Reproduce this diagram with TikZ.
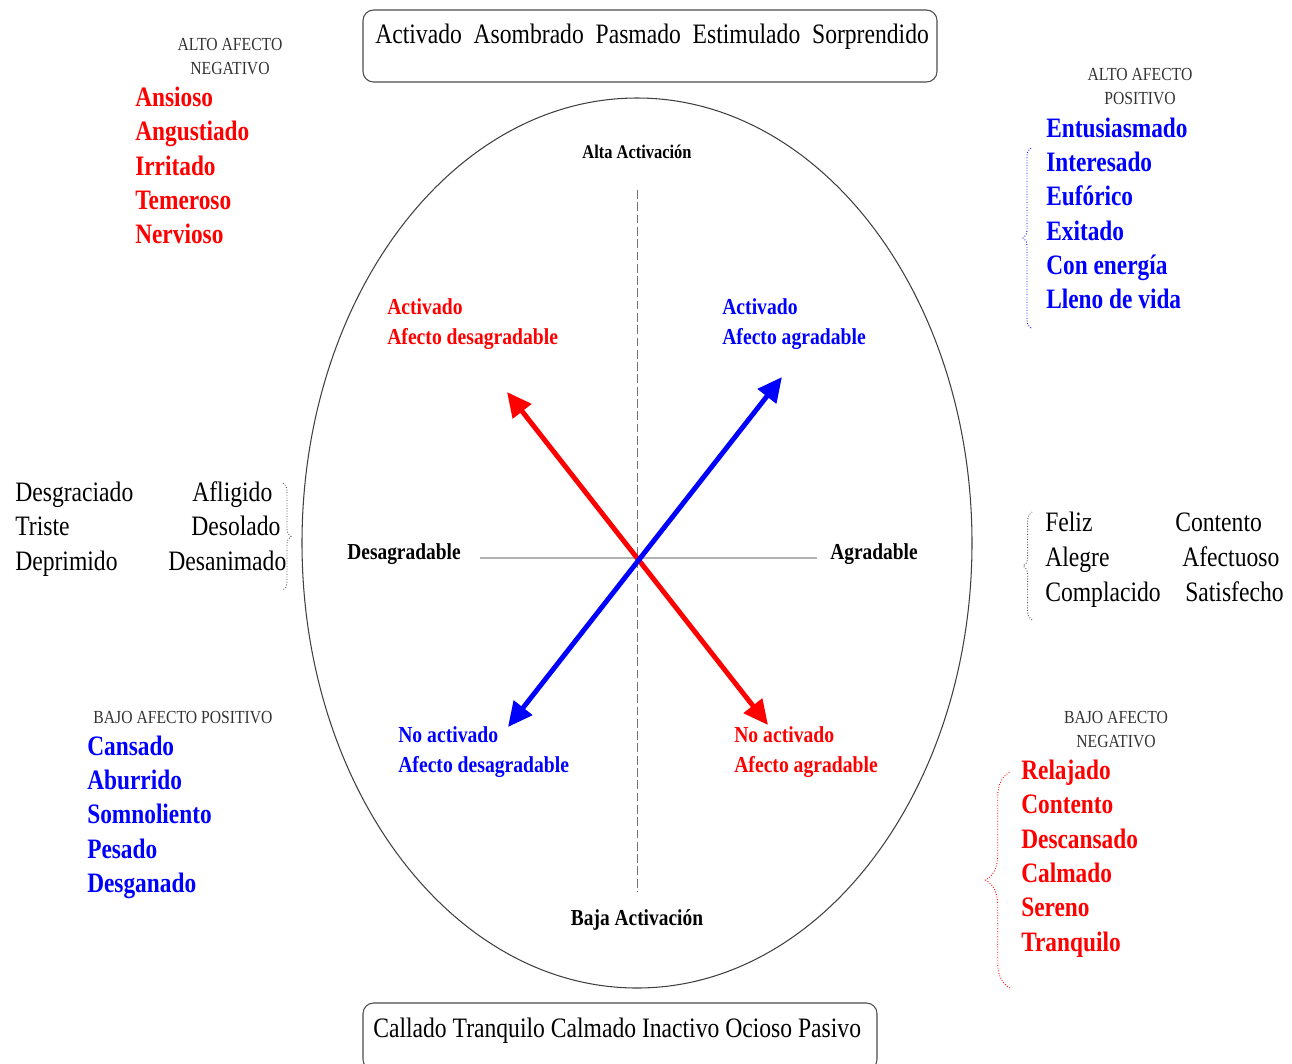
\documentclass[tikz,border=0pt]{standalone}
\usepackage{fontspec}
\setmainfont{Liberation Serif}
\usetikzlibrary{arrows.meta,decorations.pathreplacing}

\tikzset{
  base/.style={inner sep=0pt, text height=1.5ex, text depth=.25ex},
  palabra/.style={base, anchor=west, xscale=.84, yshift=-2.2pt, font=\fontsize{16}{19}\selectfont},
  lista/.style={base, anchor=west, xscale=.83, yshift=-2.2pt, font=\bfseries\fontsize{16}{19}\selectfont},
  rojo/.style={lista, text=red},
  azul/.style={lista, text=blue},
  rotulo/.style={base, xscale=.85, yshift=-0.6pt, text=black!80, font=\fontsize{10.5}{12}\selectfont},
  eje/.style={base, xscale=.85, yshift=-1.4pt, font=\bfseries\fontsize{13}{15}\selectfont},
  cuadrante/.style={base, anchor=west, xscale=.86, yshift=-1.6pt, font=\bfseries\fontsize{13}{15}\selectfont},
  caja/.style={draw=black!70, line width=0.6pt, rounded corners=6pt},
  flecha/.style={line width=2.8pt, {Triangle[length=14pt,width=13pt]}-{Triangle[length=14pt,width=13pt]}},
  llave/.style={decorate, decoration={brace, amplitude=#1}, densely dotted, line width=0.5pt}
}

\begin{document}
\begin{tikzpicture}
[x=0.02cm, y=-0.02cm]
\useasboundingbox (0,0) rectangle (1292,1063);
% cajas de arriba y abajo
\draw [caja] (363,10) rectangle (937,82);
\node [palabra] (altaPal) at (375,35) {Activado\enspace Asombrado\enspace Pasmado\enspace Estimulado\enspace Sorprendido};
\draw [caja] (363,1003) rectangle (877,1070);
\node [palabra] (bajaPal) at (373,1029) {Callado Tranquilo Calmado Inactivo Ocioso Pasivo};
% circulo y ejes
\coordinate (elipse) at (637,543);
\draw [black!75, line width=0.6pt] (elipse) ellipse [x radius=335, y radius=445];
\coordinate (ejeN) at (637,190);
\coordinate (ejeS) at (637,892);
\coordinate (ejeO) at (480,558);
\coordinate (ejeE) at (817,558);
\draw [black!55, line width=0.5pt, dash pattern=on 5pt off 2pt] (ejeN) -- (ejeS);
\draw [black!30, line width=0.6pt] (ejeO) -- (ejeE);
\node [eje, font=\bfseries\fontsize{11}{13}\selectfont] (alta) at (637,151) {Alta Activación};
\node [eje] (baja) at (637,918) {Baja Activación};
\node [eje] (desag) at (404,552) {Desagradable};
\node [eje] (agrad) at (874,552) {Agradable};
% flechas
\coordinate (rojoA) at (507,392);
\coordinate (rojoB) at (768,725);
\coordinate (azulA) at (508,727);
\coordinate (azulB) at (782,377);
\draw [flecha, red] (rojoB) -- (rojoA);
\draw [flecha, blue] (azulA) -- (azulB);
% cuadrantes
\node [cuadrante, text=red] (q1a) at (387,307) {Activado};
\node [cuadrante, text=red] (q1b) at (387,337) {Afecto desagradable};
\node [cuadrante, text=blue] (q2a) at (722,307) {Activado};
\node [cuadrante, text=blue] (q2b) at (722,337) {Afecto agradable};
\node [cuadrante, text=blue] (q3a) at (398,735) {No activado};
\node [cuadrante, text=blue] (q3b) at (398,765) {Afecto desagradable};
\node [cuadrante, text=red] (q4a) at (734,735) {No activado};
\node [cuadrante, text=red] (q4b) at (734,765) {Afecto agradable};
% alto afecto negativo
\node [rotulo] (aan1) at (230,44) {ALTO AFECTO};
\node [rotulo] (aan2) at (230,68) {NEGATIVO};
\node [rojo] (ansioso) at (135,98) {Ansioso};
\node [rojo] (angustiado) at (135,132) {Angustiado};
\node [rojo] (irritado) at (135,167) {Irritado};
\node [rojo] (temeroso) at (135,201) {Temeroso};
\node [rojo] (nervioso) at (135,235) {Nervioso};
% alto afecto positivo
\node [rotulo] (aap1) at (1140,74) {ALTO AFECTO};
\node [rotulo] (aap2) at (1140,98) {POSITIVO};
\node [azul] (entusiasmado) at (1046,129) {Entusiasmado};
\node [azul] (interesado) at (1046,163) {Interesado};
\node [azul] (euforico) at (1046,197) {Eufórico};
\node [azul] (exitado) at (1046,232) {Exitado};
\node [azul] (energia) at (1046,266) {Con energía};
\node [azul] (lleno) at (1046,300) {Lleno de vida};
\draw [llave=4.5pt, blue] (1031,328) -- (1031,148);
% desagradable
\node [palabra] (desgraciado) at (15,493) {Desgraciado};
\node [palabra] (triste) at (15,527) {Triste};
\node [palabra] (deprimido) at (15,562) {Deprimido};
\node [palabra] (afligido) at (192,493) {Afligido};
\node [palabra] (desolado) at (191,527) {Desolado};
\node [palabra] (desanimado) at (168,562) {Desanimado};
\draw [llave=4.5pt, black!70] (283,483) -- (283,590);
% agradable
\node [palabra] (feliz) at (1045,523) {Feliz};
\node [palabra] (alegre) at (1045,558) {Alegre};
\node [palabra] (complacido) at (1045,593) {Complacido};
\node [palabra] (contento) at (1175,523) {Contento};
\node [palabra] (afectuoso) at (1182,558) {Afectuoso};
\node [palabra] (satisfecho) at (1185,593) {Satisfecho};
\draw [llave=5pt, black!70] (1032,620) -- (1032,512);
% bajo afecto positivo
\node [rotulo] (bap) at (183,717) {BAJO AFECTO POSITIVO};
\node [azul] (cansado) at (87,747) {Cansado};
\node [azul] (aburrido) at (87,781) {Aburrido};
\node [azul] (somnoliento) at (87,815) {Somnoliento};
\node [azul] (pesado) at (87,850) {Pesado};
\node [azul] (desganado) at (87,884) {Desganado};
% bajo afecto negativo
\node [rotulo] (ban1) at (1116,717) {BAJO AFECTO};
\node [rotulo] (ban2) at (1116,741) {NEGATIVO};
\node [rojo] (relajado) at (1021,771) {Relajado};
\node [rojo] (contento2) at (1021,805) {Contento};
\node [rojo] (descansado) at (1021,840) {Descansado};
\node [rojo] (calmado) at (1021,874) {Calmado};
\node [rojo] (sereno) at (1021,908) {Sereno};
\node [rojo] (tranquilo) at (1021,943) {Tranquilo};
\draw [llave=14pt, red] (1010,988) -- (1010,772);
\end{tikzpicture}
\end{document}
